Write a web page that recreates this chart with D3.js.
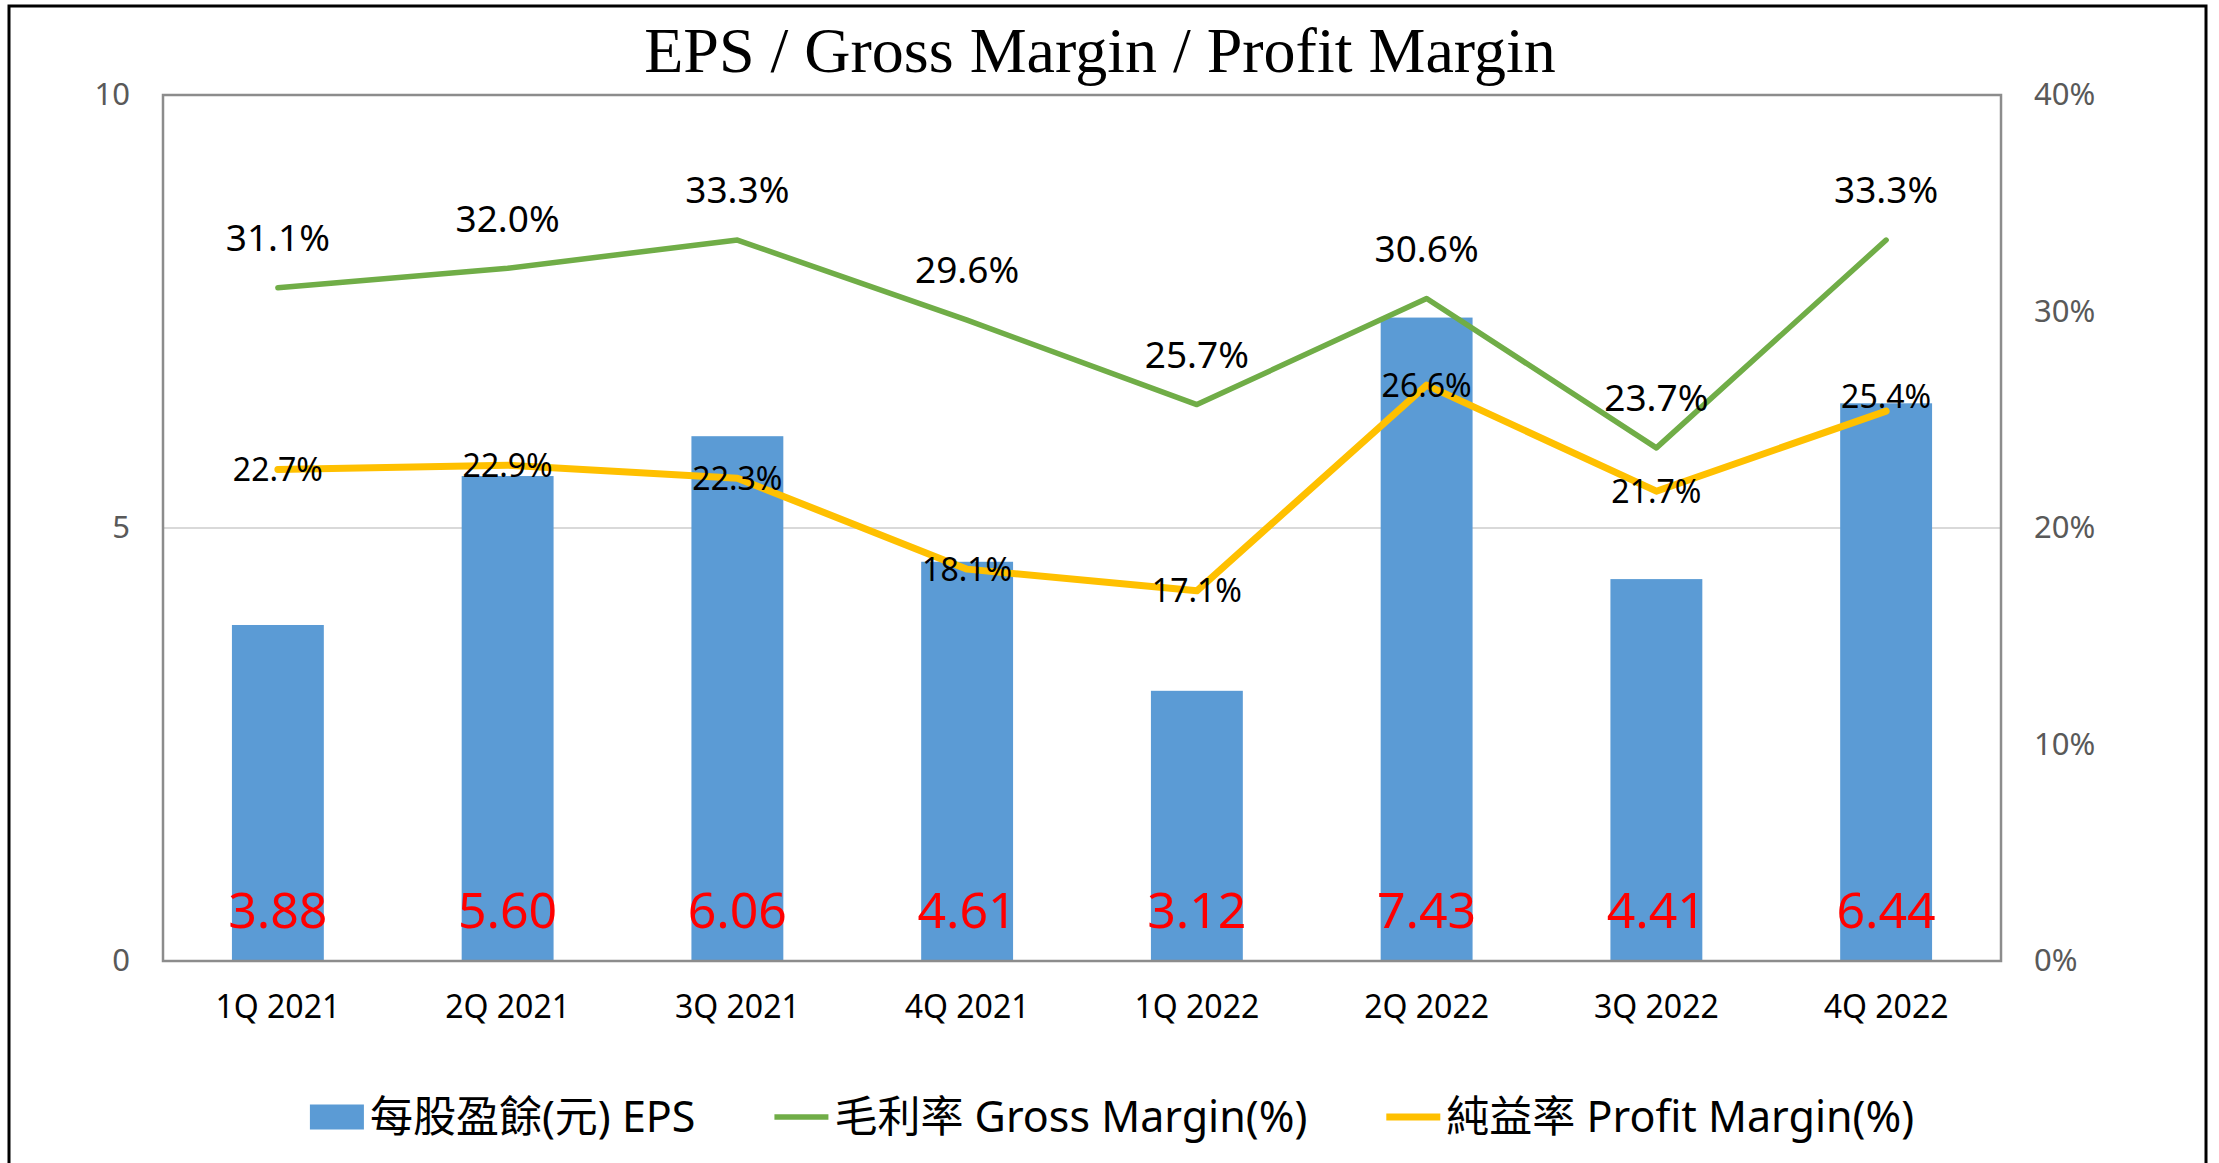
<!DOCTYPE html>
<html>
<head>
<meta charset="utf-8">
<script src="https://cdn.jsdelivr.net/npm/d3@7"></script>
<style>
  html, body { margin: 0; padding: 0; background: #fff; }
  svg { display: block; }
</style>
</head>
<body>
<svg id="chart" width="2219" height="1163"></svg>
<script>
// Quarterly figures
const quarters = ["1Q 2021", "2Q 2021", "3Q 2021", "4Q 2021", "1Q 2022", "2Q 2022", "3Q 2022", "4Q 2022"];
const eps = [3.88, 5.60, 6.06, 4.61, 3.12, 7.43, 4.41, 6.44];
const grossMargin = [31.1, 32.0, 33.3, 29.6, 25.7, 30.6, 23.7, 33.3];
const profitMargin = [22.7, 22.9, 22.3, 18.1, 17.1, 26.6, 21.7, 25.4];

const leftTicks = [0, 5, 10];
const rightTicks = [0, 10, 20, 30, 40];

const titleText = "EPS / Gross Margin / Profit Margin";
const legendLabels = ["每股盈餘(元) EPS", "毛利率 Gross Margin(%)", "純益率 Profit Margin(%)"];

// Styling
const colors = { bar: "#5B9BD5", gross: "#70AD47", profit: "#FFC000", epsLabel: "#FF0000" };
const sansFont = "'Noto Sans', 'Noto Sans CJK TC', sans-serif";
const serifFont = "'Liberation Serif', 'Times New Roman', serif";

const svg = d3.select("#chart");
const plot = { left: 163, right: 2001, top: 95, bottom: 961 };

// Outer frame
svg.append("rect")
  .attr("x", 9).attr("y", 6)
  .attr("width", 2197).attr("height", 1170)
  .attr("fill", "#fff").attr("stroke", "#000").attr("stroke-width", 3);

// Scales
const x = d3.scaleBand().domain(quarters).range([plot.left, plot.right])
  .paddingInner(0.6).paddingOuter(0.3);
const yL = d3.scaleLinear().domain([0, 10]).range([plot.bottom, plot.top]);
const yR = d3.scaleLinear().domain([0, 40]).range([plot.bottom, plot.top]);
const cx = q => x(q) + x.bandwidth() / 2;

// Gridline at the middle value
svg.append("g")
  .selectAll("line").data(leftTicks.filter(t => t > 0 && t < 10)).join("line")
  .attr("x1", plot.left).attr("x2", plot.right)
  .attr("y1", d => yL(d)).attr("y2", d => yL(d))
  .attr("stroke", "#D9D9D9").attr("stroke-width", 2);

// Bars
svg.append("g").selectAll("rect").data(eps).join("rect")
  .attr("x", (d, i) => x(quarters[i]))
  .attr("width", x.bandwidth())
  .attr("y", d => yL(d))
  .attr("height", d => yL(0) - yL(d))
  .attr("fill", colors.bar);

// Plot frame
svg.append("rect")
  .attr("x", plot.left).attr("y", plot.top)
  .attr("width", plot.right - plot.left).attr("height", plot.bottom - plot.top)
  .attr("fill", "none").attr("stroke", "#8C8C8C").attr("stroke-width", 2.5);

// Left axis
const axL = svg.append("g").attr("transform", `translate(${plot.left},0)`)
  .call(d3.axisLeft(yL).tickValues(leftTicks).tickSize(0).tickPadding(33));
axL.select(".domain").remove();
axL.selectAll("text").attr("font-family", sansFont).attr("font-size", 31).attr("fill", "#595959");

// Right axis
const axR = svg.append("g").attr("transform", `translate(${plot.right},0)`)
  .call(d3.axisRight(yR).tickValues(rightTicks).tickSize(0).tickPadding(33).tickFormat(d => d + "%"));
axR.select(".domain").remove();
axR.selectAll("text").attr("font-family", sansFont).attr("font-size", 31).attr("fill", "#595959");

// Category axis
const axX = svg.append("g").attr("transform", `translate(0,${plot.bottom})`)
  .call(d3.axisBottom(x).tickSize(0).tickPadding(34));
axX.select(".domain").remove();
axX.selectAll("text").attr("font-family", sansFont).attr("font-size", 32).attr("fill", "#000");

// Lines
const line = d3.line().x((d, i) => cx(quarters[i])).y(d => yR(d));
svg.append("path").datum(grossMargin).attr("d", line)
  .attr("fill", "none").attr("stroke", colors.gross).attr("stroke-width", 5.5)
  .attr("stroke-linejoin", "round").attr("stroke-linecap", "round");
svg.append("path").datum(profitMargin).attr("d", line)
  .attr("fill", "none").attr("stroke", colors.profit).attr("stroke-width", 7)
  .attr("stroke-linejoin", "round").attr("stroke-linecap", "round");

// EPS value labels
svg.append("g").selectAll("text").data(eps).join("text")
  .attr("x", (d, i) => cx(quarters[i]))
  .attr("y", 910)
  .attr("dy", "0.36em")
  .attr("text-anchor", "middle")
  .attr("font-family", sansFont).attr("font-size", 50)
  .attr("fill", colors.epsLabel)
  .text(d => d.toFixed(2));

// Gross margin labels above points
svg.append("g").selectAll("text").data(grossMargin).join("text")
  .attr("x", (d, i) => cx(quarters[i]))
  .attr("y", d => yR(d) - 50)
  .attr("dy", "0.36em")
  .attr("text-anchor", "middle")
  .attr("font-family", sansFont).attr("font-size", 37)
  .attr("fill", "#000")
  .text(d => d.toFixed(1) + "%");

// Profit margin labels centred on points
svg.append("g").selectAll("text").data(profitMargin).join("text")
  .attr("x", (d, i) => cx(quarters[i]))
  .attr("y", (d, i) => yR(d) - (i === quarters.length - 1 ? 15 : 0))
  .attr("dy", "0.36em")
  .attr("text-anchor", "middle")
  .attr("font-family", sansFont).attr("font-size", 32)
  .attr("fill", "#000")
  .text(d => d.toFixed(1) + "%");

// Title
svg.append("text")
  .attr("x", 1100).attr("y", 72)
  .attr("text-anchor", "middle")
  .attr("font-family", serifFont).attr("font-size", 64)
  .attr("fill", "#000")
  .text(titleText);

// Legend
const legend = svg.append("g");
const legendY = 1117;
const swatchW = 54, swatchGap = 6, itemGap = 79;
const kinds = ["bar", "gross", "profit"];
let cursor = 0;
legendLabels.forEach((label, i) => {
  const g = legend.append("g");
  if (kinds[i] === "bar") {
    g.append("rect").attr("x", 0).attr("y", legendY - 12.5)
      .attr("width", swatchW).attr("height", 25).attr("fill", colors.bar);
  } else {
    g.append("line").attr("x1", 0).attr("x2", swatchW)
      .attr("y1", legendY).attr("y2", legendY)
      .attr("stroke", colors[kinds[i]]).attr("stroke-width", kinds[i] === "gross" ? 5.5 : 7);
  }
  const t = g.append("text").attr("x", swatchW + swatchGap).attr("y", legendY).attr("dy", "0.36em")
    .attr("font-family", sansFont).attr("font-size", 43).attr("fill", "#000").text(label);
  const w = swatchW + swatchGap + t.node().getComputedTextLength();
  g.attr("transform", `translate(${cursor},0)`);
  cursor += w + itemGap;
});
const legendWidth = cursor - itemGap;
legend.attr("transform", `translate(${1112 - legendWidth / 2},0)`);
</script>
</body>
</html>
